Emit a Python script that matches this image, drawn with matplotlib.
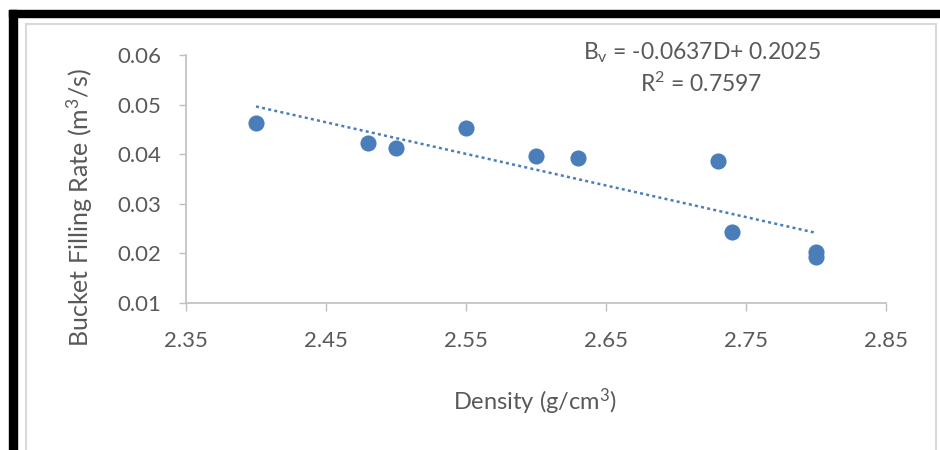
import matplotlib.pyplot as plt
import numpy as np
from matplotlib.patches import Rectangle
from matplotlib.lines import Line2D

plt.rcParams['font.family'] = ['Lato', 'DejaVu Sans']
plt.rcParams['mathtext.fontset'] = 'custom'
plt.rcParams['mathtext.rm'] = 'Lato'
plt.rcParams['mathtext.it'] = 'Lato:italic'

# measured points
density = [2.40, 2.48, 2.50, 2.55, 2.60, 2.63, 2.73, 2.74, 2.80, 2.80]
fill_rate = [0.0462, 0.0423, 0.0413, 0.0452, 0.0397, 0.0392, 0.0387, 0.0243, 0.0203, 0.0193]

# trend line as printed on the chart
slope = -0.0637
intercept = 0.2025
r2 = 0.7597

x_ticks = [2.35, 2.45, 2.55, 2.65, 2.75, 2.85]
y_ticks = [0.01, 0.02, 0.03, 0.04, 0.05, 0.06]

BLUE = '#4A7EBB'
TXT = '#595959'
AXC = '#BFBFBF'

fig = plt.figure(figsize=(9.4, 4.5), dpi=100)
ax = fig.add_axes([186 / 940, 1 - 303 / 450, 700 / 940, 248 / 450])

ax.scatter(density, fill_rate, s=135, color=BLUE, zorder=3, linewidths=0)

tx = np.array([min(density), max(density)])
ax.plot(tx, slope * tx + intercept, color=BLUE, lw=1.8, linestyle=(0, (1.2, 1.3)), zorder=2)

ax.set_xlim(2.35, 2.85)
ax.set_ylim(0.01, 0.06)
ax.set_xticks(x_ticks)
ax.set_yticks(y_ticks)
ax.set_xticklabels([f'{v:.2f}' for v in x_ticks])
ax.set_yticklabels([f'{v:.2f}' for v in y_ticks])

for s in ['top', 'right']:
    ax.spines[s].set_visible(False)
for s in ['left', 'bottom']:
    ax.spines[s].set_color(AXC)
    ax.spines[s].set_linewidth(1.2)
ax.tick_params(axis='y', length=5, width=1, color=AXC, labelcolor=TXT, labelsize=16, pad=13)
ax.tick_params(axis='x', length=6, width=1, color=AXC, labelcolor=TXT, labelsize=16, pad=14)

fig.text(80 / 940, 1 - 207 / 450, 'Bucket Filling Rate (m$^3$/s)', rotation=90,
         ha='center', va='center', fontsize=18, color=TXT)
fig.text(535 / 940, 1 - 402 / 450, 'Density (g/cm$^3$)', ha='center', va='center',
         fontsize=17, color=TXT)
fig.text(702 / 940, 1 - 53 / 450, f'B$_\\mathrm{{v}}$ = {slope}D+ {intercept}',
         ha='center', va='center', fontsize=16.5, color=TXT)
fig.text(701 / 940, 1 - 84 / 450, f'R$^2$ = {r2}', ha='center', va='center',
         fontsize=16.5, color=TXT)

# frame: black bars top and left, thin grey chart border
fig.patches.append(Rectangle((9 / 940, 1 - 17 / 450), 1, 7 / 450, transform=fig.transFigure,
                             color='black', zorder=0))
fig.patches.append(Rectangle((9 / 940, 0), 8 / 940, 1 - 10 / 450, transform=fig.transFigure,
                             color='black', zorder=0))
fig.lines.append(Line2D([26 / 940, 936 / 940], [1 - 24 / 450, 1 - 24 / 450],
                        transform=fig.transFigure, color='#D9D9D9', lw=1.5))
fig.lines.append(Line2D([26 / 940, 26 / 940], [0, 1 - 24 / 450],
                        transform=fig.transFigure, color='#D9D9D9', lw=1.5))
fig.lines.append(Line2D([936 / 940, 936 / 940], [0, 1 - 24 / 450],
                        transform=fig.transFigure, color='#D9D9D9', lw=1.5))

fig.savefig('out.png', dpi=100)
